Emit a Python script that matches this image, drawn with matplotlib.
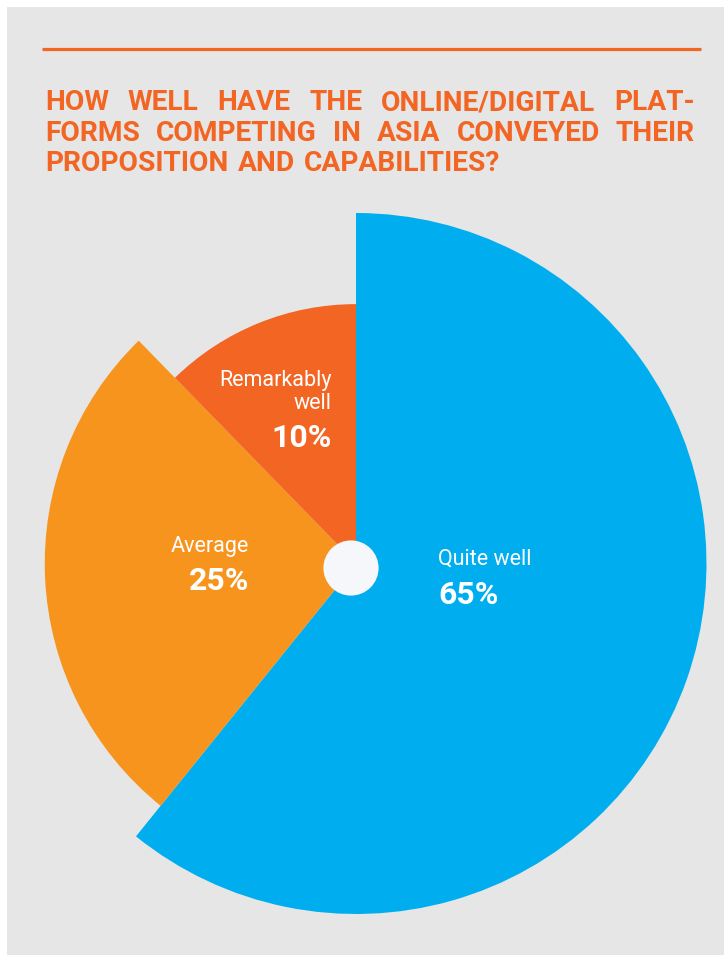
import matplotlib
matplotlib.use("Agg")
import matplotlib.pyplot as plt
from matplotlib import font_manager
from matplotlib.patches import Circle, Rectangle

# ---------------- data ----------------
categories = ["Quite well", "Average", "Remarkably\nwell"]
percent_values = [65, 25, 10]
# angular share of each slice as drawn in the reference
sweep_share = [60.8, 26.9, 12.3]
# relative radius of each slice (variable-radius pie)
radius_rel = [1.0, 0.888, 0.740]
colors = ["#00AEEF", "#F7941D", "#F26522"]
title_lines = [
    "HOW WELL HAVE THE ONLINE/DIGITAL PLAT-",
    "FORMS COMPETING IN ASIA CONVEYED THEIR",
    "PROPOSITION AND CAPABILITIES?",
]

# ---------------- layout ----------------
W, H = 724, 955
DPI = 100
ORANGE = "#F26522"
BG = "#E6E6E6"

names = {f.name for f in font_manager.fontManager.ttflist}
def pick(cands, default="DejaVu Sans"):
    for c in cands:
        if c in names:
            return c
    return default

title_font = pick(["Roboto", "Lato", "Liberation Sans"])
label_font = pick(["Roboto", "Lato", "Open Sans"])

fig = plt.figure(figsize=(W / DPI, H / DPI), dpi=DPI)
fig.patch.set_facecolor("white")
ax = fig.add_axes([0, 0, 1, 1])

def Y(y_down):
    return H - y_down

# grey panel
ax.add_patch(Rectangle((7, 0), W - 7, H - 7, facecolor=BG, edgecolor="none", zorder=0))

# orange rule
ax.plot([42, 701], [Y(49), Y(49)], color=ORANGE, lw=2.3, solid_capstyle="butt", zorder=2)

# ---------------- pie ----------------
cx, cy = 356, Y(563.5)
R = 350.5
wedges, _ = ax.pie(sweep_share, colors=colors, startangle=90, counterclock=False,
                   center=(cx, cy), radius=R,
                   wedgeprops=dict(linewidth=0, edgecolor="none"))
for w, rr in zip(wedges, radius_rel):
    w.set_radius(R * rr)
    w.set_zorder(1)

# centre hole
ax.add_patch(Circle((351, Y(568)), 27.6, facecolor="#F5F7FA", edgecolor="none", zorder=3))

# ---------------- labels ----------------
label_pos = [  # (x, name baseline, pct baseline, ha)
    (438, 565, 604, "left"),
    (249, 552, 590, "right"),
    (332, 386, 447, "right"),
]
for cat, val, (x, yb, yp, ha) in zip(categories, percent_values, label_pos):
    lines = cat.split("\n")
    for i, ln in enumerate(lines):
        ax.text(x, Y(yb + 23 * i), ln, ha=ha, va="baseline", color="white",
                fontsize=15.5, family=label_font, fontweight="normal", zorder=4)
    ax.text(x, Y(yp), f"{val}%", ha=ha, va="baseline", color="white",
            fontsize=23, family=label_font, fontweight="bold", zorder=4)

# ---------------- justified title ----------------
renderer = fig.canvas.get_renderer()
x0, x1 = 45, 695
baselines = [110.5, 140.8, 171]
just = [True, True, False]

def measure(words, size):
    ts = [ax.text(0, 0, w, fontsize=size, family=title_font, fontweight="bold") for w in words]
    ws = [t.get_window_extent(renderer).width for t in ts]
    sp = ax.text(0, 0, "A A", fontsize=size, family=title_font, fontweight="bold")
    sp2 = ax.text(0, 0, "AA", fontsize=size, family=title_font, fontweight="bold")
    space = sp.get_window_extent(renderer).width - sp2.get_window_extent(renderer).width
    for t in ts + [sp, sp2]:
        t.remove()
    return ws, space

size = 21.0
for ln in title_lines[:2]:
    ws, space = measure(ln.split(), size)
    nat = sum(ws) + 2.2 * space * (len(ws) - 1)
    if nat > (x1 - x0):
        size = size * (x1 - x0) / nat

for ln, yb, j in zip(title_lines, baselines, just):
    words = ln.split()
    ws, space = measure(words, size)
    gap = (x1 - x0 - sum(ws)) / (len(words) - 1) if j else space * 1.3
    x = x0
    for w, wd in zip(words, ws):
        ax.text(x, Y(yb), w, fontsize=size, family=title_font, fontweight="bold",
                color=ORANGE, ha="left", va="baseline", zorder=4)
        x += wd + gap

ax.set_xlim(0, W)
ax.set_ylim(0, H)
ax.set_aspect("auto")
ax.axis("off")

fig.savefig("out.png", dpi=DPI, facecolor=fig.get_facecolor())
